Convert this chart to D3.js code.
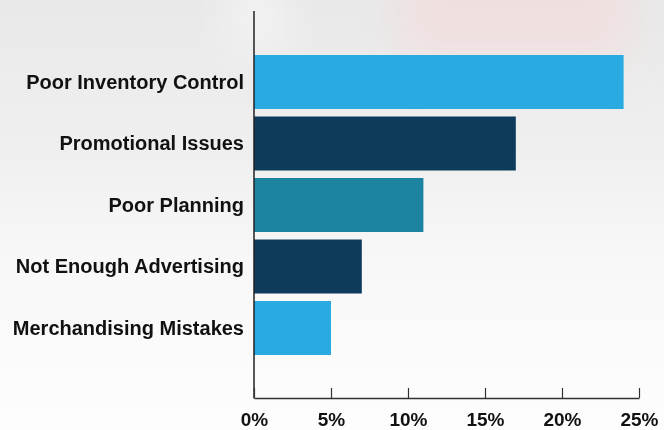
<!DOCTYPE html>
<html>
<head>
<meta charset="utf-8">
<script src="https://cdn.jsdelivr.net/npm/d3@7"></script>
<style>
  html, body { margin: 0; padding: 0; background: #fff; }
  svg { display: block; }
</style>
</head>
<body>
<svg id="chart" width="664" height="430"></svg>
<script>
// Causes of retail shortfalls, share of responses (%)
const categories = [
  "Poor Inventory Control",
  "Promotional Issues",
  "Poor Planning",
  "Not Enough Advertising",
  "Merchandising Mistakes"
];
const values = [24, 17, 11, 7, 5];
const barColors = ["#29abe2", "#0e3a5c", "#1c84a0", "#0e3a5c", "#29abe2"];
const tickValues = [0, 5, 10, 15, 20, 25];
const tickLabels = ["0%", "5%", "10%", "15%", "20%", "25%"];

const W = 664, H = 430;
const svg = d3.select("#chart");
const defs = svg.append("defs");

// Soft backdrop: grey at the top fading to white, warm tint in the upper right
const bg = defs.append("linearGradient").attr("id", "bgGrad")
  .attr("x1", 0).attr("y1", 0).attr("x2", 0).attr("y2", 1);
bg.append("stop").attr("offset", "0%").attr("stop-color", "#e9e9e9");
bg.append("stop").attr("offset", "35%").attr("stop-color", "#efefef");
bg.append("stop").attr("offset", "62%").attr("stop-color", "#f8f8f8");
bg.append("stop").attr("offset", "100%").attr("stop-color", "#fdfdfd");

defs.append("filter").attr("id", "soft")
  .attr("x", "-50%").attr("y", "-50%").attr("width", "200%").attr("height", "200%")
  .append("feGaussianBlur").attr("stdDeviation", 22);

svg.append("rect").attr("width", W).attr("height", H).attr("fill", "url(#bgGrad)");
const haze = svg.append("g").attr("filter", "url(#soft)");
haze.append("rect").attr("x", 400).attr("y", -40).attr("width", 230).attr("height", 100)
  .attr("fill", "#f3dcdc").attr("opacity", 0.75);
haze.append("rect").attr("x", 235).attr("y", -20).attr("width", 45).attr("height", 70)
  .attr("fill", "#f8f8f8").attr("opacity", 0.8);

// Scales
const x = d3.scaleLinear().domain([0, 25]).range([254, 639]);
const y = d3.scaleBand().domain(categories).range([51.25, 358.75])
  .paddingInner(0.122).paddingOuter(0.061);

// Bars
svg.append("g").selectAll("rect")
  .data(categories)
  .join("rect")
  .attr("x", x(0))
  .attr("y", d => y(d))
  .attr("width", (d, i) => x(values[i]) - x(0))
  .attr("height", y.bandwidth())
  .attr("fill", (d, i) => barColors[i]);

// Category labels
svg.append("g").selectAll("text")
  .data(categories)
  .join("text")
  .attr("x", 244)
  .attr("y", d => y(d) + y.bandwidth() / 2)
  .attr("dy", "0.33em")
  .attr("text-anchor", "end")
  .attr("font-family", "'Liberation Sans Narrow', 'Arial Narrow', 'Liberation Sans', sans-serif")
  .attr("font-weight", "bold")
  .attr("font-size", 20)
  .attr("fill", "#111")
  .text(d => d);

// Vertical axis line
svg.append("line")
  .attr("x1", x(0)).attr("x2", x(0))
  .attr("y1", 11).attr("y2", 398.5)
  .attr("stroke", "#222").attr("stroke-width", 1.5);

// Bottom axis with inward ticks
const xAxis = d3.axisBottom(x)
  .tickValues(tickValues)
  .tickFormat((d, i) => tickLabels[i])
  .tickSize(-10)
  .tickSizeOuter(0)
  .tickPadding(15);

const gx = svg.append("g").attr("transform", "translate(0,398)").call(xAxis);
gx.select(".domain").attr("stroke", "#333").attr("stroke-width", 1.5);
gx.selectAll(".tick line").attr("stroke", "#333").attr("stroke-width", 1.2);
gx.selectAll(".tick text")
  .attr("font-family", "'Liberation Sans', Arial, sans-serif")
  .attr("font-weight", "bold")
  .attr("font-size", 19)
  .attr("fill", "#111");
</script>
</body>
</html>
